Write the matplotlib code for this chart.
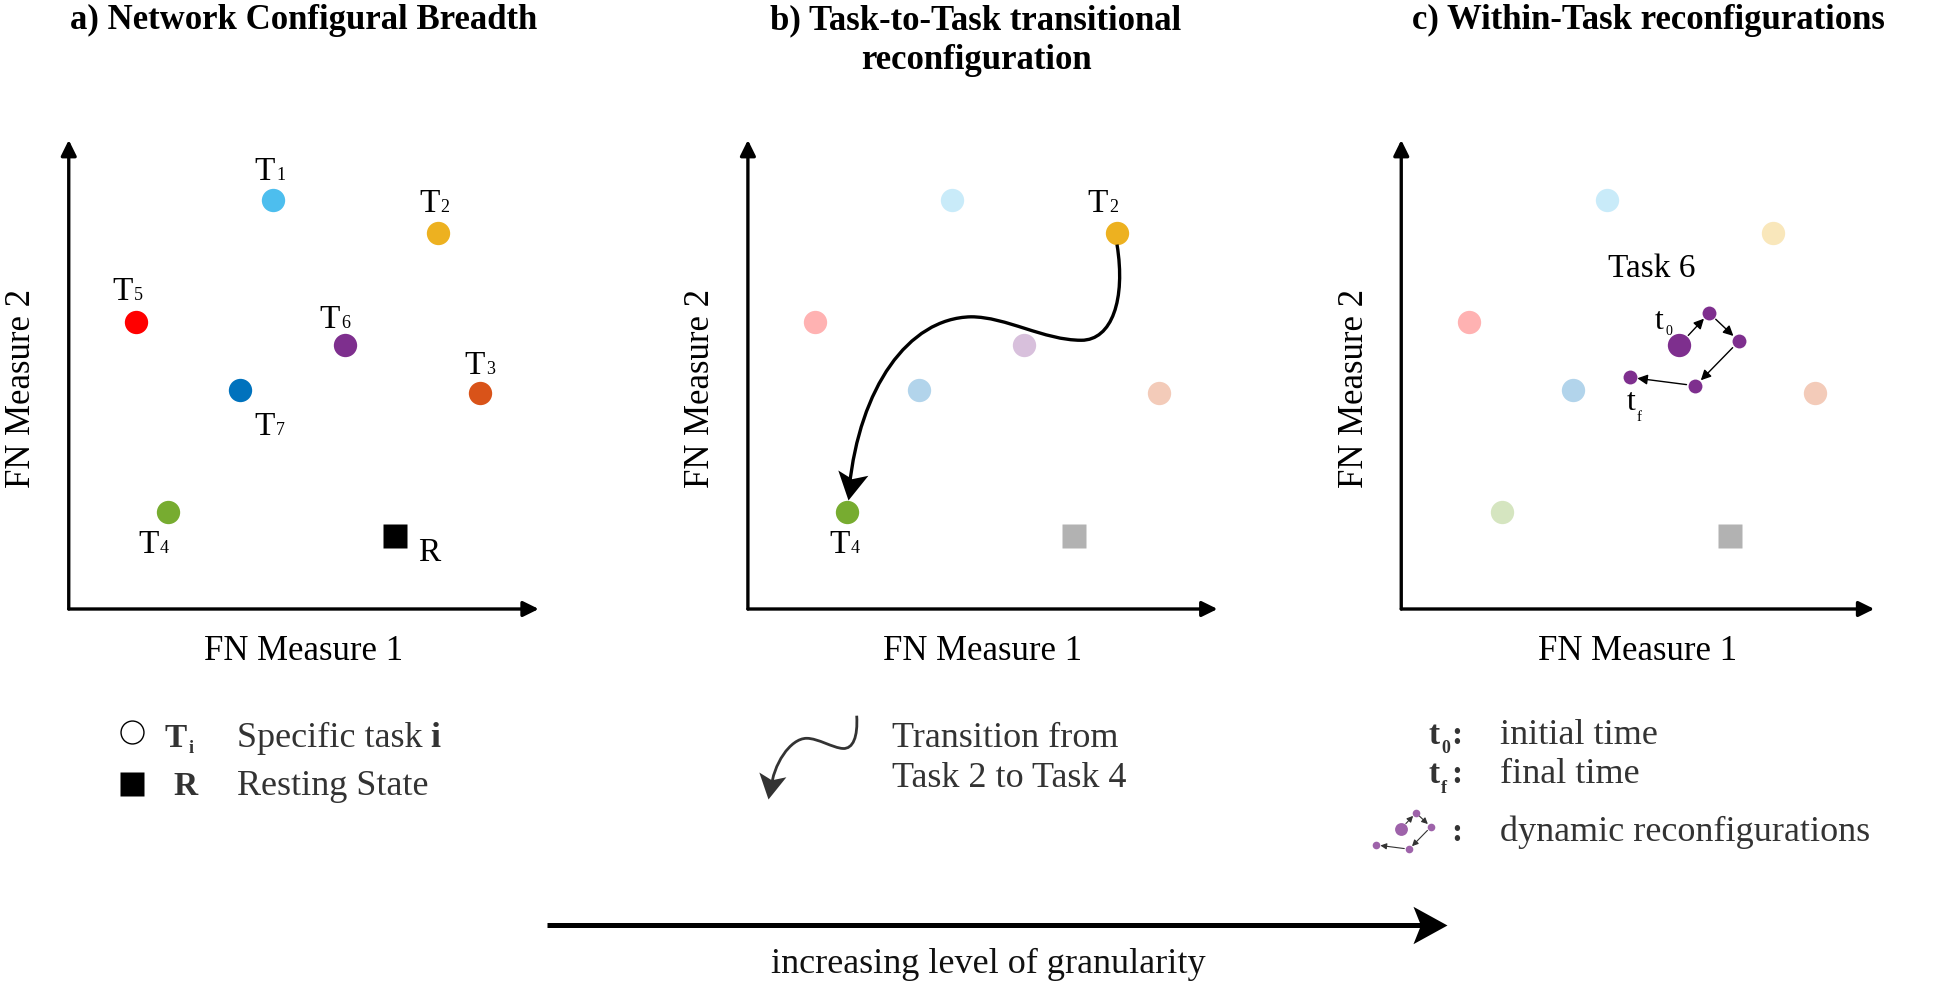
import numpy as np
import matplotlib.pyplot as plt
from matplotlib.path import Path
from matplotlib.patches import FancyArrowPatch
from matplotlib.transforms import Affine2D

plt.rcParams['font.family'] = ['Liberation Serif', 'DejaVu Serif']

W, H = 1946, 987
PT = 0.72  # points per pixel at dpi 100

# task states in FN-measure space (axes run 0..10)
task_ids = ['1', '2', '3', '4', '5', '6', '7']
task_x = [4.34, 7.85, 8.75, 2.12, 1.43, 5.87, 3.64]
task_y = [8.72, 8.02, 4.60, 2.06, 6.12, 5.62, 4.68]
task_colors = ['#4DBEEE', '#EDB120', '#D95319', '#77AC30', '#FF0000', '#7E2F8E', '#0072BD']
rest_x, rest_y = 6.95, 1.56

# within-task trajectory of task 6, t0 -> tf
traj_x = [5.87, 6.51, 7.14, 6.22, 4.83]
traj_y = [5.62, 6.31, 5.71, 4.76, 4.94]

# task 2 -> task 4 transition (cubic bezier vertices, data units)
trans_verts = [(7.86, 7.77), (8.05, 6.6), (7.75, 5.73), (7.10, 5.73),
               (6.3, 5.73), (5.5, 6.23), (4.75, 6.23),
               (3.4, 6.2), (2.38, 4.7), (2.16, 2.6)]
trans_tip = (2.13, 2.33)

# legend squiggle arrow (pixels)
squiggle_verts = [(856.7, 716.7), (858, 738), (853, 750), (843, 749.5),
                  (833, 749), (818, 739.3), (806.7, 739.3),
                  (790, 739.3), (773, 766), (771, 790)]
squiggle_tip = (768.3, 800)

# label offsets (px, right edge of "T" / baseline, y down)
lab_off_a = {'1': (2.5, -21), '2': (1.7, -22), '3': (4.6, -20), '4': (-10, 40),
             '5': (-3.3, -23), '6': (-5, -18), '7': (34.6, 44)}
lab_off_b = {'2': (-8.4, -22), '4': (2, 40)}

FS = 26
GREY = '#333333'
CODES = [Path.MOVETO] + [Path.CURVE4] * 9
STEALTH = Path([(0, 0), (-1, 0.55), (-0.78, 0), (-1, -0.55), (0, 0)],
               [Path.MOVETO, Path.LINETO, Path.LINETO, Path.LINETO, Path.CLOSEPOLY])


def stealth_head(ax, tip, angle, size, color):
    # size = head length in points
    m = Affine2D().rotate_deg(angle).transform_path(STEALTH)
    scale = np.abs(m.vertices).max()
    ax.plot(tip[0], tip[1], marker=m, ms=2 * size * scale, color=color, mec='none',
            clip_on=False, zorder=4)


fig = plt.figure(figsize=(W / 100, H / 100), dpi=100)

ov = fig.add_axes([0, 0, 1, 1])
ov.set_xlim(0, W)
ov.set_ylim(H, 0)
ov.axis('off')


def task_label(ax, x, y, main, sub, off, size=24, subsize=13, drop=0, **kw):
    dx, dy = off
    ax.annotate(main, (x, y), xytext=(dx * PT, -dy * PT), textcoords='offset points',
                ha='right', va='baseline', fontsize=size, **kw)
    ax.annotate(sub, (x, y), xytext=(dx * PT + 0.8, -(dy + drop) * PT), textcoords='offset points',
                ha='left', va='baseline', fontsize=subsize, **kw)


def make_panel(left, width):
    ax = fig.add_axes([left / W, 1 - 610 / H, width / W, 469 / H])
    ax.set_xlim(0, 10)
    ax.set_ylim(0, 10)
    ax.axis('off')
    for end in [(10, 0), (0, 10)]:
        ax.annotate('', xy=end, xytext=(0, 0),
                    arrowprops=dict(arrowstyle='-|>,head_length=0.85,head_width=0.42',
                                    mutation_scale=11, lw=2.4, color='black',
                                    shrinkA=0, shrinkB=0))
    ov.text(left + width / 2, 660, 'FN Measure 1', ha='center', va='baseline', fontsize=25)
    ov.text(left - 38.5, 388.5, 'FN Measure 2', rotation=90, rotation_mode='anchor',
            ha='center', va='baseline', fontsize=25)
    return ax


ax_a = make_panel(68.75, 470)
ax_b = make_panel(747.9, 469.6)
ax_c = make_panel(1401.25, 473)

# titles
ov.text(303.7, 29, 'a) Network Configural Breadth', ha='center', va='baseline', fontsize=25, weight='bold')
ov.text(976, 29, 'b) Task-to-Task transitional', ha='center', va='baseline', fontsize=25, weight='bold')
ov.text(976, 68.75, 'reconfiguration', ha='center', va='baseline', fontsize=25, weight='bold')
ov.text(1648.5, 29, 'c) Within-Task reconfigurations', ha='center', va='baseline', fontsize=25, weight='bold')

# panel a
for tid, x, y, c in zip(task_ids, task_x, task_y, task_colors):
    ax_a.plot(x, y, 'o', ms=16.8, color=c, mec='none', clip_on=False)
    task_label(ax_a, x, y, 'T', tid, lab_off_a[tid])
ax_a.plot(rest_x, rest_y, 's', ms=16.8, color='black', mec='none')
ax_a.annotate('R', (rest_x, rest_y), xytext=(23 * PT, -23.7 * PT), textcoords='offset points',
              ha='left', va='baseline', fontsize=24)

# panel b
for tid, x, y, c in zip(task_ids, task_x, task_y, task_colors):
    a = 1.0 if tid in lab_off_b else 0.3
    ax_b.plot(x, y, 'o', ms=16.8, color=c, mec='none', alpha=a, clip_on=False)
    if tid in lab_off_b:
        task_label(ax_b, x, y, 'T', tid, lab_off_b[tid])
ax_b.plot(rest_x, rest_y, 's', ms=16.8, color='black', mec='none', alpha=0.3)
ax_b.add_patch(FancyArrowPatch(path=Path(trans_verts, CODES), arrowstyle='-',
                               lw=2.4, color='black', zorder=3, capstyle='butt'))
ang_b = np.degrees(np.arctan2(trans_tip[1] - trans_verts[-2][1], trans_tip[0] - trans_verts[-2][0])) - 4
stealth_head(ax_b, trans_tip, ang_b, 20, 'black')

# panel c
for tid, x, y, c in zip(task_ids, task_x, task_y, task_colors):
    if tid == '6':
        continue
    ax_c.plot(x, y, 'o', ms=16.8, color=c, mec='none', alpha=0.3, clip_on=False)
ax_c.plot(rest_x, rest_y, 's', ms=16.8, color='black', mec='none', alpha=0.3)
ax_c.text(5.30, 7.10, 'Task 6', ha='center', va='baseline', fontsize=24)

sizes = [16.8, 10, 10, 10, 10]
for i in range(len(traj_x)):
    ax_c.plot(traj_x[i], traj_y[i], 'o', ms=sizes[i], color='#7E2F8E', mec='none', zorder=3)
for i in range(len(traj_x) - 1):
    ax_c.annotate('', xy=(traj_x[i + 1], traj_y[i + 1]), xytext=(traj_x[i], traj_y[i]),
                  arrowprops=dict(arrowstyle='-|>,head_length=0.6,head_width=0.3',
                                  mutation_scale=10, lw=1, color='black',
                                  shrinkA=sizes[i] / 2 + 1.5, shrinkB=sizes[i + 1] / 2 + 0.5))
task_label(ax_c, traj_x[0], traj_y[0], 't', '0', (-15, -17.6), size=23, subsize=10, drop=6)
task_label(ax_c, traj_x[-1], traj_y[-1], 't', 'f', (5.7, 31.7), size=23, subsize=11, drop=11)

# legend a
ov.plot(131.7, 733.3, 'o', ms=16.5, mfc='white', mec='black', mew=1)
ov.plot(131.7, 785, 's', ms=16.8, color='black', mec='none')
ov.text(186.7, 746.7, 'T', ha='right', va='baseline', fontsize=24, weight='bold', color=GREY)
ov.text(188.5, 753.3, 'i', ha='left', va='baseline', fontsize=13, weight='bold', color=GREY)
t = ov.text(236.7, 746.7, 'Specific task', ha='left', va='baseline', fontsize=FS, color=GREY)
ov.annotate('i', (1, 0), xycoords=t, xytext=(6, 0), textcoords='offset points',
            ha='left', va='bottom', fontsize=FS, weight='bold', color=GREY)
ov.text(173, 795, 'R', ha='left', va='baseline', fontsize=24, weight='bold', color=GREY)
ov.text(236.7, 795, 'Resting State', ha='left', va='baseline', fontsize=FS, color=GREY)

# legend b
ov.add_patch(FancyArrowPatch(path=Path(squiggle_verts, CODES), arrowstyle='-',
                             lw=2, color=GREY, capstyle='butt'))
stealth_head(ov, squiggle_tip, -100, 18, GREY)
ov.text(891.7, 746.7, 'Transition from', ha='left', va='baseline', fontsize=FS, color=GREY)
ov.text(891.7, 786.7, 'Task 2 to Task 4', ha='left', va='baseline', fontsize=FS, color=GREY)

# legend c
task_label(ov, 1440, 744, 't', '0', (0, 0), size=24, subsize=13, drop=9, weight='bold', color=GREY)
task_label(ov, 1440, 783.3, 't', 'f', (0, 0), size=24, subsize=13, drop=10, weight='bold', color=GREY)
for yy in [744, 783.3, 840.7]:
    ov.text(1451, yy, ':', ha='left', va='baseline', fontsize=24, weight='bold', color=GREY)
ov.text(1500, 744, 'initial time', ha='left', va='baseline', fontsize=FS, color=GREY)
ov.text(1500, 783.3, 'final time', ha='left', va='baseline', fontsize=FS, color=GREY)
ov.text(1500, 840.7, 'dynamic reconfigurations', ha='left', va='baseline', fontsize=FS, color=GREY)

# mini trajectory glyph: same data, half scale
ax_m = fig.add_axes([1262 / W, 1 - (727.3 + 234.5) / H, 236.5 / W, 234.5 / H])
ax_m.set_xlim(0, 10)
ax_m.set_ylim(0, 10)
ax_m.axis('off')
for i in range(len(traj_x)):
    ax_m.plot(traj_x[i], traj_y[i], 'o', ms=sizes[i] * 0.55, color='#9E63AA', mec='none', zorder=3)
for i in range(len(traj_x) - 1):
    ax_m.annotate('', xy=(traj_x[i + 1], traj_y[i + 1]), xytext=(traj_x[i], traj_y[i]),
                  arrowprops=dict(arrowstyle='-|>,head_length=0.6,head_width=0.3',
                                  mutation_scale=6, lw=0.8, color=GREY,
                                  shrinkA=sizes[i] * 0.27 + 0.8, shrinkB=sizes[i + 1] * 0.27 + 0.3))

# granularity arrow
ov.plot([547, 1425], [926, 926], color='black', lw=3.6, solid_capstyle='butt')
stealth_head(ov, (1447, 926), 0, 24.5, 'black')
ov.text(988.5, 973, 'increasing level of granularity', ha='center', va='baseline', fontsize=FS, color='#111111')

fig.savefig('out.png', dpi=100)
